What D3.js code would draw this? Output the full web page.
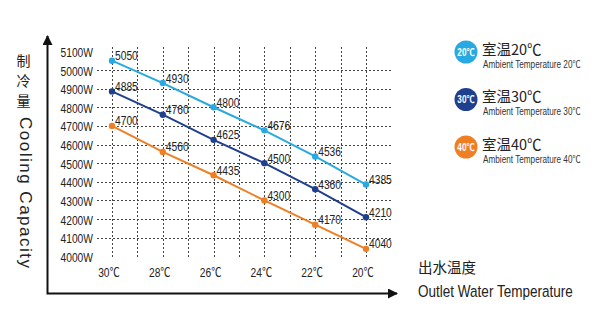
<!DOCTYPE html>
<html>
<head>
<meta charset="utf-8">
<script src="https://cdn.jsdelivr.net/npm/d3@7"></script>
<style>
  html, body { margin: 0; padding: 0; background: #fff; }
  svg { display: block; }
  .narrow { font-family: "Liberation Sans", Arial, sans-serif; }
  .cjk { font-family: "Noto Sans CJK SC", sans-serif; }
</style>
</head>
<body>
<svg id="chart" width="600" height="323"></svg>
<script>
// Outlet water temperature (°C) along the x axis, high to low
const temps = [30, 28, 26, 24, 22, 20];
const tickLabels = ["30℃", "28℃", "26℃", "24℃", "22℃", "20℃"];
// Cooling capacity (W) for each ambient temperature
const ambient20 = [5050, 4930, 4800, 4676, 4536, 4385];
const ambient30 = [4885, 4760, 4625, 4500, 4360, 4210];
const ambient40 = [4700, 4560, 4435, 4300, 4170, 4040];
const seriesNames = ["20℃", "30℃", "40℃"];
const yTicks = [5100, 5000, 4900, 4800, 4700, 4600, 4500, 4400, 4300, 4200, 4100, 4000];

const colors = ["#29a9e1", "#1f3f8f", "#f07f24"];
const series = [ambient20, ambient30, ambient40].map((vals, i) => ({
  name: seriesNames[i], color: colors[i],
  points: vals.map((v, j) => ({ t: temps[j], v }))
}));

// condensed lettering: place at (px, py) and squeeze horizontally
const SQ = 0.82;
const squeeze = (px, py) => `translate(${px},${py}) scale(${SQ},1)`;

// write a label whose degree sign is set in the CJK face
function degreeText(sel, str) {
  sel.each(function (d, i) {
    const s = typeof str === "function" ? str(d, i) : str;
    const t = d3.select(this);
    t.selectAll("tspan").remove();
    s.split(/(℃)/).filter(p => p).forEach(p => {
      const ts = t.append("tspan").text(p);
      if (p === "℃") ts.attr("font-family", "Noto Sans CJK SC, sans-serif");
    });
  });
  return sel;
}

const svg = d3.select("#chart");

const x = d3.scaleLinear().domain([30, 20]).range([112, 366]);
const y = d3.scaleLinear().domain([4000, 5000]).range([256.3, 70]);

// dashed grid
const grid = svg.append("g").attr("stroke", "#444").attr("stroke-width", 1)
  .attr("stroke-dasharray", "2,2");
grid.selectAll("line.h").data(yTicks.filter(v => v > 4000 && v < 5100)).join("line")
  .attr("class", "h")
  .attr("x1", 97).attr("x2", 392)
  .attr("y1", d => Math.round(y(d)) + 0.5).attr("y2", d => Math.round(y(d)) + 0.5);
grid.selectAll("line.v").data(d3.range(30, 19, -1)).join("line")
  .attr("class", "v")
  .attr("x1", d => Math.round(x(d)) + 0.5).attr("x2", d => Math.round(x(d)) + 0.5)
  .attr("y1", 47).attr("y2", 258);

// y tick labels
svg.append("g").attr("class", "narrow").attr("font-size", 12.5).attr("fill", "#222")
  .attr("text-anchor", "end")
  .selectAll("text").data(yTicks).join("text")
  .attr("transform", d => squeeze(93, y(d) + 5.5))
  .text(d => d + "W");

// x tick labels
svg.append("g").attr("class", "narrow").attr("font-size", 12.5).attr("fill", "#222")
  .attr("text-anchor", "middle")
  .selectAll("text").data(temps).join("text")
  .attr("transform", d => squeeze(x(d) - 3, 277))
  .call(degreeText, (d, i) => tickLabels[i]);

// axes with arrows
svg.append("defs").append("marker")
  .attr("id", "arrow").attr("viewBox", "0 0 10 10")
  .attr("refX", 9).attr("refY", 5)
  .attr("markerWidth", 5).attr("markerHeight", 5)
  .attr("orient", "auto-start-reverse").attr("markerUnits", "strokeWidth")
  .append("path").attr("d", "M0,0 L10,5 L0,10 Z").attr("fill", "#111");
svg.append("path")
  .attr("d", "M47.5,36 L47.5,293.5 L397,293.5")
  .attr("fill", "none").attr("stroke", "#111").attr("stroke-width", 2)
  .attr("marker-start", "url(#arrow)").attr("marker-end", "url(#arrow)");

// series lines, points and value labels
const line = d3.line().x(d => x(d.t)).y(d => y(d.v));
const sg = svg.append("g").selectAll("g").data(series).join("g");
sg.append("path")
  .attr("d", d => line(d.points))
  .attr("fill", "none").attr("stroke", d => d.color).attr("stroke-width", 2);
sg.selectAll("circle").data(d => d.points.map(p => ({ ...p, color: d.color }))).join("circle")
  .attr("cx", d => x(d.t)).attr("cy", d => y(d.v)).attr("r", 3.2)
  .attr("fill", d => d.color);
sg.selectAll("text").data(d => d.points).join("text")
  .attr("class", "narrow").attr("font-size", 12.5).attr("fill", "#222")
  .attr("transform", d => squeeze(x(d.t) + 3, y(d.v) - 0.5))
  .text(d => d.v);

// left axis title
const lt = svg.append("g").attr("fill", "#222");
lt.selectAll("text.cn").data(["制", "冷", "量"]).join("text")
  .attr("class", "cjk").attr("font-size", 14).attr("text-anchor", "middle")
  .attr("x", 23.5).attr("y", (d, i) => 66 + i * 20)
  .text(d => d);
lt.append("text")
  .attr("font-family", "Liberation Sans, Arial, sans-serif")
  .attr("font-size", 17)
  .attr("transform", "translate(19.5,117) rotate(90)")
  .attr("textLength", 151)
  .text("Cooling Capacity");

// bottom axis title
svg.append("text").attr("class", "cjk").attr("font-size", 14.5).attr("fill", "#222")
  .attr("x", 418).attr("y", 273).text("出水温度");
svg.append("text").attr("class", "narrow").attr("font-size", 16.5).attr("fill", "#222")
  .attr("transform", squeeze(418, 297)).text("Outlet Water Temperature");

// legend
const lg = svg.append("g").selectAll("g").data(series).join("g")
  .attr("transform", (d, i) => `translate(0,${52 + i * 47.5})`);
lg.append("circle").attr("cx", 466).attr("cy", 0).attr("r", 11.5).attr("fill", d => d.color);
lg.append("text").attr("class", "narrow").attr("font-size", 10).attr("font-weight", "bold")
  .attr("fill", "#fff").attr("text-anchor", "middle")
  .attr("transform", squeeze(466, 3.5)).call(degreeText, d => d.name);
lg.append("text").attr("class", "cjk").attr("font-size", 14.5).attr("fill", "#222")
  .attr("x", 482).attr("y", 2.5).text(d => "室温" + d.name);
lg.append("text").attr("class", "narrow").attr("font-size", 10).attr("fill", "#333")
  .attr("transform", squeeze(483, 15.5)).call(degreeText, d => "Ambient Temperature " + d.name);
</script>
</body>
</html>
